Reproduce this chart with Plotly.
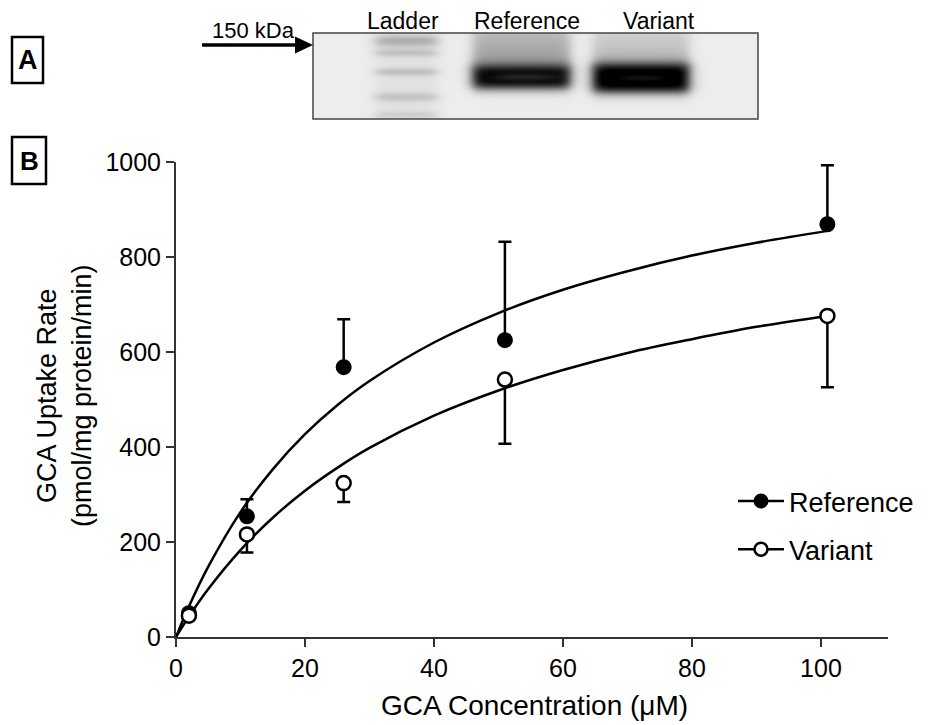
import numpy as np
import plotly.graph_objects as go

# ---------------- data ----------------
conc = [2, 11, 26, 51, 101]
ref_rate = [50, 254, 568, 625, 869]
ref_sem = [0, 36, 101, 207, 124]
var_rate = [45, 216, 324, 542, 676]
var_sem = [0, 38, 40, 135, 150]

fit_x = [0, 2, 5, 10, 15, 20, 25, 30, 40, 50, 60, 70, 80, 90, 101]
ref_fit = [0, 64, 148, 263, 353, 427, 488, 539, 620, 682, 731, 770, 803, 830, 855]
var_fit = [0, 43, 101, 183, 251, 308, 356, 398, 466, 519, 562, 598, 627, 653, 676]

x_ticks = [0, 20, 40, 60, 80, 100]
y_ticks = [0, 200, 400, 600, 800, 1000]
lane_labels = ["Ladder", "Reference", "Variant"]

# ---------------- layout geometry helpers ----------------
# the page body has an 8px margin, so the figure is shifted by 8px; compensate
OFF = 8
W, H = 929 - OFF, 725 - OFF
ML, MR, MT, MB = 176 - OFF, 41, 10 - OFF, 88
PW, PH = W - ML - MR, H - MT - MB  # 712 x 627


def px(x):  # page pixel x -> paper
    return (x - OFF - ML) / PW


def py(y):  # page pixel y -> paper
    return (H - MB - (y - OFF)) / PH


FONT = "Arial, Liberation Sans, Helvetica, sans-serif"
AX = "#333333"

# ---------------- gel image (panel A) ----------------
GW, GH = 445, 86
X, Y = np.meshgrid(np.arange(GW) + 0.5, np.arange(GH) + 0.5)


def sig(t):
    return 1.0 / (1.0 + np.exp(-t))


def hwin(x0, x1, s):
    return sig((X - x0) / s) * sig((x1 - X) / s)


def vwin(y0, y1, s):
    return sig((Y - y0) / s) * sig((y1 - Y) / s)


def gy(yc, w):
    return np.exp(-((Y - yc) / w) ** 2)


def layer(z, d):
    return z + (1 - z) * np.clip(d, 0, 1)


z = np.full((GH, GW), 0.07)
# ladder lane (faint, smudgy)
lad = hwin(63, 124, 4) * (0.05 + 0.22 * gy(8, 6) + 0.14 * gy(20, 4) + 0.15 * gy(39, 4)
                          + 0.13 * gy(64, 4.5) + 0.08 * gy(82, 4))
z = layer(z, lad)
# reference lane
h = hwin(160, 257, 3.5)
smear = vwin(-10, 37, 3.5) * (0.22 + 0.16 * Y / 37)
band = vwin(33, 55, 3.0) * (1.1 - 0.22 * np.exp(-((Y - 44) / 4) ** 2) * hwin(180, 245, 8))
z = layer(z, h * smear)
z = layer(z, h * band)
# variant lane
h = hwin(280, 376, 3.5)
smear = vwin(-10, 35, 3.5) * (0.13 + 0.12 * Y / 35)
band = vwin(31, 59, 3.0) * (1.12 - 0.2 * np.exp(-((Y - 45) / 4) ** 2) * hwin(305, 355, 8))
z = layer(z, h * smear)
z = layer(z, h * band)

fig = go.Figure()

fig.add_trace(go.Heatmap(
    z=z, x=np.arange(GW) + 0.5, y=np.arange(GH) + 0.5,
    colorscale=[[0, "#ffffff"], [1, "#000000"]], zmin=0, zmax=1,
    showscale=False, hoverinfo="skip", xaxis="x2", yaxis="y2"))

# ---------------- fitted curves ----------------
for fy in (ref_fit, var_fit):
    fig.add_trace(go.Scatter(
        x=fit_x, y=fy, mode="lines", line=dict(color="black", width=2.5, shape="spline", smoothing=1),
        showlegend=False, hoverinfo="skip", cliponaxis=False))

# ---------------- data points ----------------
fig.add_trace(go.Scatter(
    x=conc, y=ref_rate, mode="markers",
    marker=dict(symbol="circle", size=14, color="black", line=dict(color="black", width=2)),
    error_y=dict(type="data", symmetric=False, array=ref_sem, arrayminus=[0] * len(ref_sem),
                 color="black", thickness=2.5, width=6.5),
    showlegend=False, cliponaxis=False))
fig.add_trace(go.Scatter(
    x=conc, y=var_rate, mode="markers",
    marker=dict(symbol="circle", size=14, color="white", line=dict(color="black", width=2.5)),
    error_y=dict(type="data", symmetric=False, array=[0] * len(var_sem), arrayminus=var_sem,
                 color="black", thickness=2.5, width=6.5),
    showlegend=False, cliponaxis=False))

# legend entries
fig.add_trace(go.Scatter(
    x=[None], y=[None], mode="lines+markers", name="Reference", legendgroup="a",
    line=dict(color="black", width=2.5),
    marker=dict(symbol="circle", size=13, color="black", line=dict(color="black", width=2))))
fig.add_trace(go.Scatter(
    x=[None], y=[None], mode="lines+markers", name="Variant", legendgroup="b",
    line=dict(color="black", width=2.5),
    marker=dict(symbol="circle", size=13, color="white", line=dict(color="black", width=2.5))))

axis_common = dict(showline=True, linecolor=AX, linewidth=2, ticks="outside", ticklen=8,
                   tickwidth=2, tickcolor=AX, showgrid=False, zeroline=False, automargin=False,
                   tickfont=dict(family=FONT, size=25, color="black"))

fig.update_layout(
    width=W, height=H, autosize=False, margin=dict(l=ML, r=MR, t=MT, b=MB, autoexpand=False),
    paper_bgcolor="white", plot_bgcolor="white",
    font=dict(family=FONT, color="black"),
    xaxis=dict(domain=[0, 1], range=[0, 110.4], tickvals=x_ticks, anchor="y", **axis_common),
    yaxis=dict(domain=[0, py(162)], range=[0, 1000], tickvals=y_ticks, anchor="x", **axis_common),
    xaxis2=dict(domain=[px(313), px(758)], range=[0, GW], visible=False, anchor="y2", automargin=False),
    yaxis2=dict(domain=[py(119), py(33)], range=[GH, 0], visible=False, anchor="x2", automargin=False),
    showlegend=True,
    legend=dict(x=px(733), y=py(477), xanchor="left", yanchor="top", itemwidth=46,
                font=dict(family=FONT, size=27, color="black"),
                bgcolor="rgba(0,0,0,0)", tracegroupgap=10, traceorder="grouped"),
)

shapes = [
    # gel border
    dict(type="rect", xref="x2 domain", yref="y2 domain", x0=0, x1=1, y0=0, y1=1,
         line=dict(color="#444444", width=1.5)),
    # arrow shaft and head
    dict(type="line", xref="paper", yref="paper", x0=px(202), x1=px(298), y0=py(45), y1=py(45),
         line=dict(color="black", width=3.5)),
    dict(type="path", xref="paper", yref="paper",
         path=f"M{px(295)},{py(36.5)} L{px(313)},{py(45)} L{px(295)},{py(53.5)} Z",
         fillcolor="black", line=dict(color="black", width=0)),
    # panel label boxes
    dict(type="rect", xref="paper", yref="paper", x0=px(12), x1=px(43), y0=py(83), y1=py(37),
         line=dict(color="black", width=2.5)),
    dict(type="rect", xref="paper", yref="paper", x0=px(12), x1=px(46), y0=py(184), y1=py(137),
         line=dict(color="black", width=2.5)),
]
fig.update_layout(shapes=shapes)

ann = []
for txt, cx in zip(lane_labels, [402.5, 526.5, 659]):
    ann.append(dict(text=txt, x=px(cx), y=py(20.5), xref="paper", yref="paper", showarrow=False,
                    xanchor="center", yanchor="middle", font=dict(family=FONT, size=23)))
ann.append(dict(text="150 kDa", x=px(253), y=py(31), xref="paper", yref="paper", showarrow=False,
                xanchor="center", yanchor="middle", font=dict(family=FONT, size=22)))
ann.append(dict(text="<b>A</b>", x=px(27.5), y=py(60.5), xref="paper", yref="paper", showarrow=False,
                xanchor="center", yanchor="middle", font=dict(family=FONT, size=27)))
ann.append(dict(text="<b>B</b>", x=px(29), y=py(160.5), xref="paper", yref="paper", showarrow=False,
                xanchor="center", yanchor="middle", font=dict(family=FONT, size=26)))
ann.append(dict(text="GCA Uptake Rate<br>(pmol/mg protein/min)", textangle=-90,
                x=px(64), y=py(396), xref="paper", yref="paper", showarrow=False,
                xanchor="center", yanchor="middle", font=dict(family=FONT, size=27)))
ann.append(dict(text="GCA Concentration (μM)", x=px(534), y=py(705), xref="paper", yref="paper",
                showarrow=False, xanchor="center", yanchor="middle", font=dict(family=FONT, size=28)))
fig.update_layout(annotations=ann)

fig.write_html("out.html")
